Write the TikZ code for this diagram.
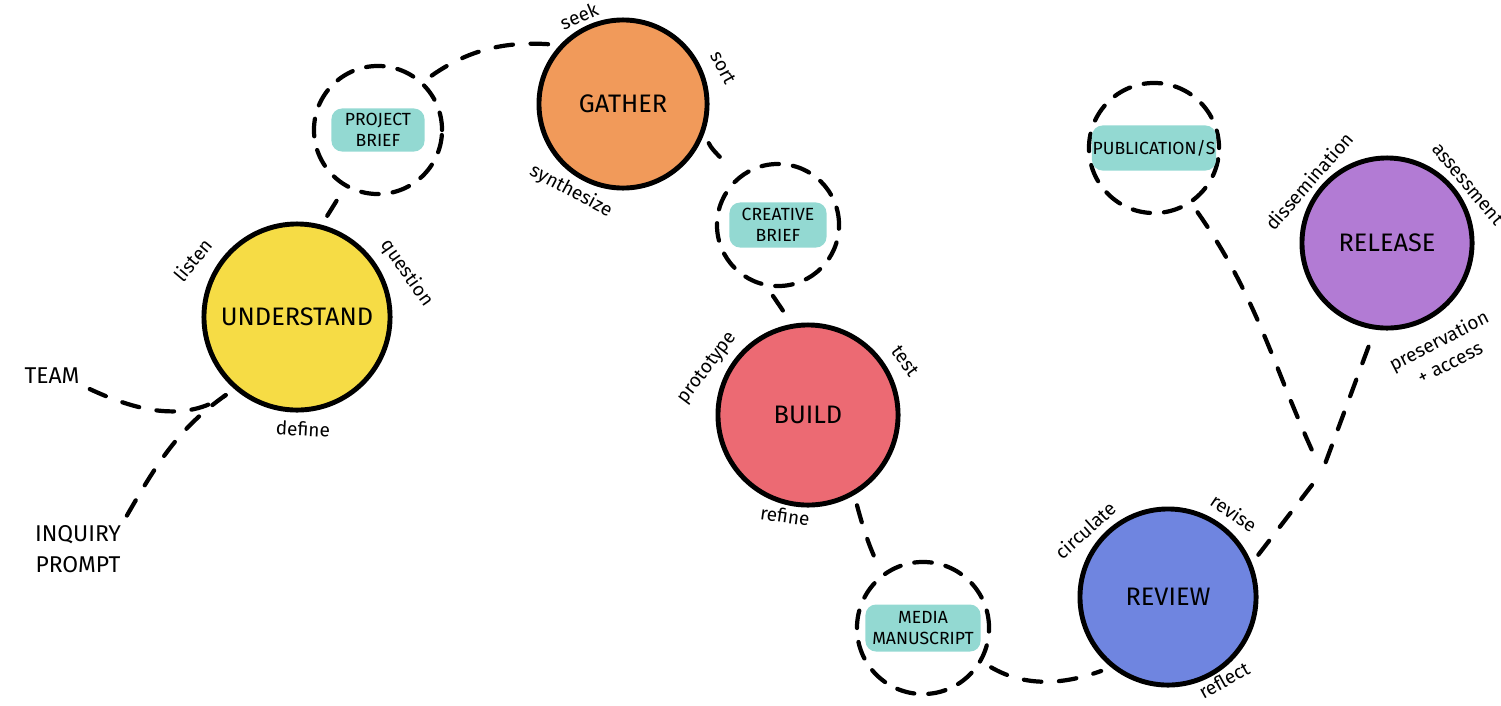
\documentclass[tikz,border=0pt]{standalone}
\usepackage{fontspec}
\setmainfont{Fira Sans}
\usepackage{xcolor}
\usepackage{tikz}
\usetikzlibrary{calc,positioning}
\definecolor{understandc}{HTML}{F6DC45}
\definecolor{gatherc}{HTML}{F19A5A}
\definecolor{buildc}{HTML}{EC6A73}
\definecolor{reviewc}{HTML}{6F85E0}
\definecolor{releasec}{HTML}{B27BD4}
\definecolor{tagc}{HTML}{93D9D2}

\begin{document}
\begin{tikzpicture}[x=0.01cm, y=0.01cm,
      phase/.style={circle, draw, line width=1.4pt, inner sep=0pt, font=\fontsize{7.2}{8}\selectfont},
      deliv/.style={circle, draw, line width=1.2pt, dash pattern=on 5pt off 4pt, line cap=round, inner sep=0pt},
      tag/.style={fill=tagc, rounded corners=3pt, inner sep=0pt, align=center, font=\fontsize{5}{5.8}\selectfont},
      word/.style={inner sep=0pt, font=\fontsize{5.4}{7}\selectfont},
      inputlbl/.style={inner sep=0pt, align=center, font=\fontsize{6.5}{8.8}\selectfont},
      link/.style={line width=1.2pt, dash pattern=on 5pt off 5pt, line cap=round, shorten <=3pt, shorten >=3pt}]
    \useasboundingbox (0,0) rectangle (1501,705);
    % phases
    \node[phase, fill=understandc, minimum size=1.86cm] (U) at (297,388) {UNDERSTAND};
    \node[phase, fill=gatherc, minimum size=1.68cm] (G) at (623,601) {GATHER};
    \node[phase, fill=buildc, minimum size=1.8cm] (B) at (808,290) {BUILD};
    \node[phase, fill=reviewc, minimum size=1.76cm] (R) at (1168,108) {REVIEW};
    \node[phase, fill=releasec, minimum size=1.7cm] (L) at (1387,462) {RELEASE};
    % deliverables
    \node[deliv, minimum size=1.28cm] (pb) at (378,575) {};
    \node[tag, minimum width=0.93cm, minimum height=0.43cm] (pbt) at (pb) {PROJECT\\BRIEF};
    \node[deliv, minimum size=1.22cm] (cb) at (778,480) {};
    \node[tag, minimum width=0.97cm, minimum height=0.45cm] (cbt) at (cb) {CREATIVE\\BRIEF};
    \node[deliv, minimum size=1.32cm] (mm) at (923,77) {};
    \node[tag, minimum width=1.15cm, minimum height=0.47cm] (mmt) at (mm) {MEDIA\\MANUSCRIPT};
    \node[deliv, minimum size=1.3cm] (pub) at (1154,557) {};
    \node[tag, minimum width=1.24cm, minimum height=0.45cm] (pubt) at (pub) {PUBLICATION/S};
    % inputs
    \node[inputlbl] (team) at (52,329) {TEAM};
    \node[inputlbl] (inq) at (78,156) {INQUIRY\\PROMPT};
    % activities
    \node[word, rotate=50] (listen) at (193,445) {listen};
    \node[word, rotate=-55] (question) at (407,432) {question};
    \node[word, rotate=-3] (define) at (303,276) {define};
    \node[word, rotate=23] (seek) at (579,689) {seek};
    \node[word, rotate=-62] (sort) at (723,637) {sort};
    \node[word, rotate=-28] (synth) at (571,514) {synthesize};
    \node[word, rotate=53] (proto) at (708,337) {prototype};
    \node[word, rotate=-54] (test) at (905,344) {test};
    \node[word, rotate=-8] (refine) at (785,189) {refine};
    \node[word, rotate=42] (circ) at (1085,175) {circulate};
    \node[word, rotate=-34] (revise) at (1234,192) {revise};
    \node[word, rotate=29] (reflect) at (1224,25) {reflect};
    \node[word, rotate=49] (dissem) at (1309,524) {dissemination};
    \node[word, rotate=-50] (assess) at (1468,521) {assessment};
    \node[word, rotate=27, align=center] (presv) at (1444,354) {preservation\\+ access};
    % path
    \coordinate (vtip) at (1322,233);
    \draw[link] (inq.north east) to[out=60,in=215] (U.229);
    \draw[link] (team.south east) to[out=-25,in=215] (U.229);
    \draw[link] (U.75) -- (pb.240);
    \draw[link] (pb.47) to[out=35,in=176] (G.137);
    \draw[link] (G.340) to[out=-65,in=110] (cb.135);
    \draw[link] (cb.260) -- (B.100);
    \draw[link] (B.300) to[out=-75,in=115] (mm.127);
    \draw[link] (mm.330) to[out=-30,in=200] (R.231);
    \draw[link] (R.22) -- (vtip);
    \draw[link] (pub.304) to[out=-55,in=115] (vtip);
    \draw[link] (vtip) -- (L.262);
  \end{tikzpicture}
\end{document}
